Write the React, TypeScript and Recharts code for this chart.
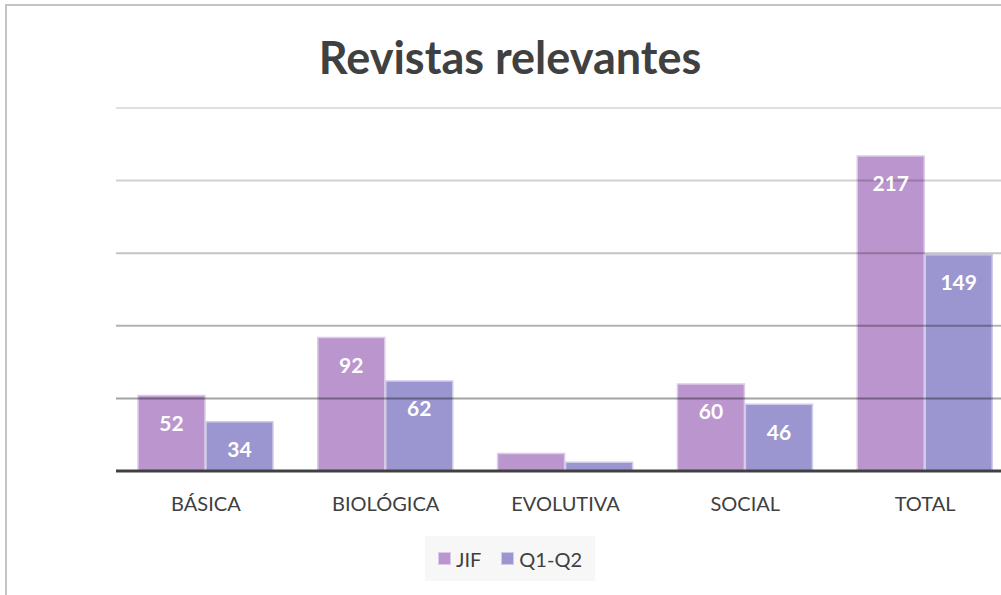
import { Bar, BarChart, LabelList, Legend, ReferenceLine, XAxis, YAxis } from "recharts"

const categories = ["BÁSICA", "BIOLÓGICA", "EVOLUTIVA", "SOCIAL", "TOTAL"]
const jifValues = [52, 92, 12, 60, 217]
const q1q2Values = [34, 62, 6, 46, 149]
const gridValues = [50, 100, 150, 200, 250]
const seriesNames = ["JIF", "Q1-Q2"]

const colors = ["#bb95ce", "#9b96cf"]
const strokes = ["#dccbe8", "#cfcce9"]
const gridOpacity = [0.36, 0.3, 0.23, 0.18, 0.12]

const data = categories.map((name, i) => ({
  name,
  jif: jifValues[i],
  q1q2: q1q2Values[i],
}))

const FONT = "Lato, 'Open Sans', sans-serif"

const renderLabel = (props: any) => {
  const { x, y, width, value } = props
  if (value < 20) return null
  return (
    <text
      x={x + width / 2}
      y={y + 27}
      textAnchor="middle"
      dominantBaseline="central"
      fill="#ffffff"
      fontWeight={700}
      fontSize={21}
      fontFamily={FONT}
    >
      {value}
    </text>
  )
}

function LegendBox() {
  return (
    <div
      style={{
        display: "flex",
        alignItems: "center",
        justifyContent: "center",
        gap: 20,
        background: "#f7f7f7",
        width: 170,
        height: 45,
        margin: "0 auto",
        fontFamily: FONT,
        fontSize: 20,
        color: "#404040",
      }}
    >
      {seriesNames.map((s, i) => (
        <div key={s} style={{ display: "flex", alignItems: "center", gap: 5 }}>
          <span style={{ width: 13, height: 13, background: colors[i], border: `1px solid ${strokes[i]}`, boxSizing: "border-box" }} />
          <span>{s}</span>
        </div>
      ))}
    </div>
  )
}

export default function App() {
  return (
    <div
      style={{
        position: "absolute",
        left: 0,
        top: 0,
        width: 1001,
        height: 595,
        overflow: "hidden",
        background: "#ffffff",
        fontFamily: FONT,
      }}
    >
      <div
        style={{
          position: "absolute",
          left: 5,
          top: 4,
          width: 1100,
          height: 700,
          border: "2px solid #c4c4c4",
          boxSizing: "border-box",
        }}
      >
        <div
          style={{
            position: "absolute",
            left: 0,
            top: 24,
            width: 1006,
            textAlign: "center",
            fontSize: 45,
            fontWeight: 700,
            color: "#404040",
            lineHeight: "54px",
          }}
        >
          Revistas relevantes
        </div>
        <BarChart
          width={1008}
          height={589}
          data={data}
          margin={{ top: 102, right: 0, left: 109, bottom: 94 }}
          barSize={67}
          barGap={1}
        >
          <YAxis hide domain={[0, 250]} ticks={gridValues} />
          <XAxis
            dataKey="name"
            height={30}
            axisLine={{ stroke: "#404040", strokeWidth: 3 }}
            tickLine={false}
            tickMargin={20}
            tick={{ fill: "#404040", fontSize: 20, fontFamily: FONT }}
          />
          <Legend
            layout="horizontal"
            verticalAlign="middle"
            align="center"
            wrapperStyle={{ top: 530, left: 0, width: 1006 }}
            content={() => <LegendBox />}
          />
          <Bar dataKey="jif" name="JIF" fill={colors[0]} stroke={strokes[0]} strokeWidth={1.5} isAnimationActive={false}>
            <LabelList dataKey="jif" content={renderLabel} />
          </Bar>
          <Bar dataKey="q1q2" name="Q1-Q2" fill={colors[1]} stroke={strokes[1]} strokeWidth={1.5} isAnimationActive={false}>
            <LabelList dataKey="q1q2" content={renderLabel} />
          </Bar>
          {gridValues.map((v, i) => (
            <ReferenceLine key={v} y={v} stroke="#000000" strokeOpacity={gridOpacity[i]} strokeWidth={2} />
          ))}
        </BarChart>
      </div>
    </div>
  )
}
